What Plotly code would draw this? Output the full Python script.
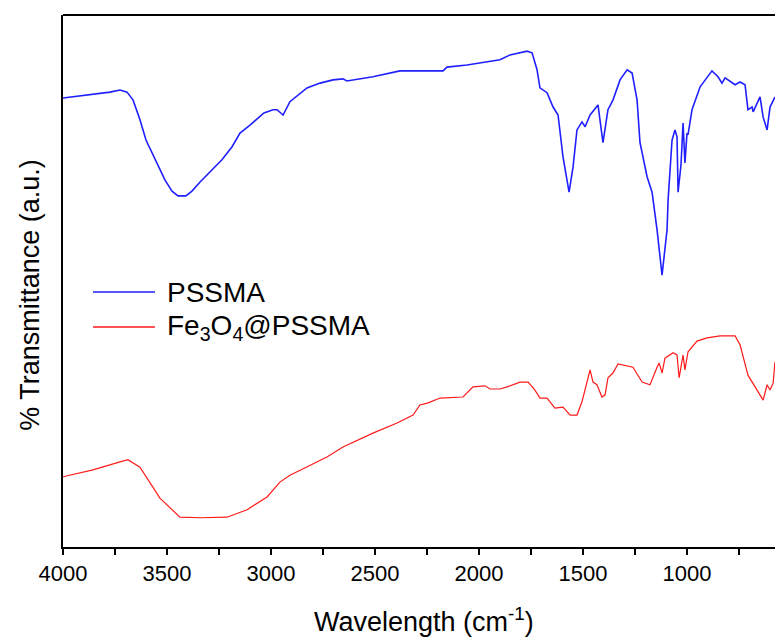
import plotly.graph_objects as go

# PSSMA spectrum (wavenumber cm^-1, transmittance a.u.)
pssma_wn = [4000, 3870, 3774, 3726, 3692, 3663, 3630, 3601, 3558, 3510, 3476, 3447, 3409, 3380,
            3341, 3293, 3236, 3188, 3149, 3101, 3063, 3034, 2990, 2971, 2942, 2909, 2827, 2764,
            2702, 2654, 2635, 2510, 2380, 2173, 2154, 2058, 1899, 1851, 1769, 1745, 1721, 1707,
            1673, 1644, 1620, 1596, 1567, 1548, 1529, 1505, 1490, 1466, 1428, 1404, 1380, 1356,
            1322, 1288, 1264, 1240, 1226, 1192, 1168, 1144, 1120, 1096, 1091, 1072, 1058, 1048,
            1043, 1029, 1019, 1010, 1000, 995, 976, 937, 880, 851, 832, 817, 769, 745, 721, 707,
            687, 682, 649, 634, 615, 601, 577]
pssma_t = [84.4, 85.0, 85.5, 85.9, 85.5, 84.0, 80.3, 76.5, 72.8, 69.0, 66.9, 66.0, 66.0, 66.9,
           68.6, 70.5, 72.8, 75.2, 77.8, 79.3, 80.7, 81.6, 82.2, 82.2, 81.2, 83.7, 86.3, 87.2,
           87.8, 88.0, 87.6, 88.4, 89.5, 89.5, 90.2, 90.6, 91.6, 92.5, 93.2, 92.9, 89.7, 86.3,
           85.4, 82.7, 81.2, 73.3, 66.7, 71.4, 78.4, 79.9, 79.0, 81.2, 83.1, 76.0, 82.2, 84.0,
           87.8, 89.7, 89.1, 84.0, 76.0, 69.6, 66.7, 59.6, 51.1, 59.6, 65.2, 76.5, 78.4, 77.1,
           66.7, 71.8, 79.7, 72.2, 77.8, 77.5, 82.2, 86.5, 89.5, 88.4, 87.2, 88.2, 86.9, 87.4,
           86.9, 82.2, 82.7, 81.8, 84.6, 80.8, 78.4, 82.7, 84.6]

# Fe3O4@PSSMA spectrum
fe_wn = [4000, 3856, 3726, 3688, 3630, 3582, 3534, 3438, 3341, 3212, 3115, 3019, 2957, 2909,
         2827, 2731, 2654, 2510, 2394, 2317, 2284, 2245, 2187, 2077, 2029, 1971, 1947, 1899,
         1865, 1803, 1764, 1731, 1707, 1673, 1635, 1596, 1562, 1529, 1505, 1481, 1466, 1452,
         1433, 1409, 1394, 1380, 1356, 1332, 1288, 1260, 1216, 1178, 1144, 1134, 1120, 1106,
         1067, 1048, 1038, 1019, 1010, 995, 952, 904, 841, 769, 745, 707, 634, 615, 601, 586, 577]
fe_t = [13.2, 14.5, 16.0, 16.4, 15.0, 12.2, 9.2, 5.6, 5.5, 5.6, 7.0, 9.4, 12.2, 13.5,
        15.0, 16.9, 18.8, 21.4, 23.3, 24.8, 26.7, 27.1, 28.0, 28.2, 30.1, 30.3, 29.7, 29.7,
        30.1, 31.0, 31.0, 29.5, 28.0, 28.0, 26.1, 26.3, 24.8, 24.8, 27.3, 31.0, 33.3, 31.0,
        30.5, 28.2, 28.6, 31.8, 32.7, 34.4, 34.0, 33.8, 31.0, 30.5, 33.8, 34.6, 32.7, 35.5,
        36.5, 36.1, 31.8, 36.1, 33.3, 36.7, 38.7, 39.3, 39.7, 39.7, 38.0, 32.3, 27.6, 30.5,
        29.5, 30.8, 34.8]

tick_vals = [4000, 3500, 3000, 2500, 2000, 1500, 1000]
tick_text = ["4000", "3500", "3000", "2500", "2000", "1500", "1000"]

series_names = ["PSSMA", "Fe<sub>3</sub>O<sub>4</sub>@PSSMA"]
series_colors = ["#2020ff", "#ff1a1a"]

FONT = "Liberation Sans, Arial, sans-serif"

fig = go.Figure()
fig.add_trace(go.Scatter(x=pssma_wn, y=pssma_t, mode="lines", name=series_names[0],
                         line=dict(color=series_colors[0], width=1.6), showlegend=False))
fig.add_trace(go.Scatter(x=fe_wn, y=fe_t, mode="lines", name=series_names[1],
                         line=dict(color=series_colors[1], width=1.2), showlegend=False))

fig.update_layout(
    width=775, height=639,
    margin=dict(l=63, r=0, t=15, b=92),
    paper_bgcolor="white", plot_bgcolor="white",
    font=dict(family=FONT, color="black"),
    xaxis=dict(range=[4000, 577], showgrid=False, zeroline=False, showline=True,
               linecolor="black", linewidth=2, ticks="outside", ticklen=6, tickwidth=2,
               tickcolor="black", tickvals=tick_vals, ticktext=tick_text,
               minor=dict(dtick=250, tick0=4000, ticks="outside", ticklen=6, tickwidth=2,
                          tickcolor="black", showgrid=False),
               tickfont=dict(size=22, family=FONT)),
    yaxis=dict(range=[0, 100], showgrid=False, zeroline=False, showline=True,
               linecolor="black", linewidth=2, ticks="", showticklabels=False),
)

# top frame line
fig.add_shape(type="line", xref="paper", yref="paper", x0=0, x1=1, y0=1, y1=1,
              line=dict(color="black", width=2))

# axis titles
fig.add_annotation(text="Wavelength (cm<sup>-1</sup>)", xref="paper", yref="paper",
                   x=0.507, y=-0.137, xanchor="center", yanchor="middle", showarrow=False,
                   font=dict(size=27, family=FONT))
fig.add_annotation(text="% Transmittance (a.u.)", xref="paper", yref="paper",
                   x=-0.0463, y=0.474, xanchor="center", yanchor="middle", showarrow=False,
                   textangle=-90, font=dict(size=27, family=FONT))

# legend (manual)
leg_y = [0.4793, 0.4135]
for name, color, yy in zip(series_names, series_colors, leg_y):
    fig.add_shape(type="line", xref="paper", yref="paper", x0=0.0421, x1=0.1292, y0=yy, y1=yy,
                  line=dict(color=color, width=1.5))
    fig.add_annotation(text=name, xref="paper", yref="paper", x=0.1433, y=yy,
                       xanchor="left", yanchor="middle", showarrow=False,
                       font=dict(size=28, family=FONT))

fig.write_html("out.html", config={"displayModeBar": False},
               post_script="document.body.style.margin='0';document.body.style.overflow='hidden';")
